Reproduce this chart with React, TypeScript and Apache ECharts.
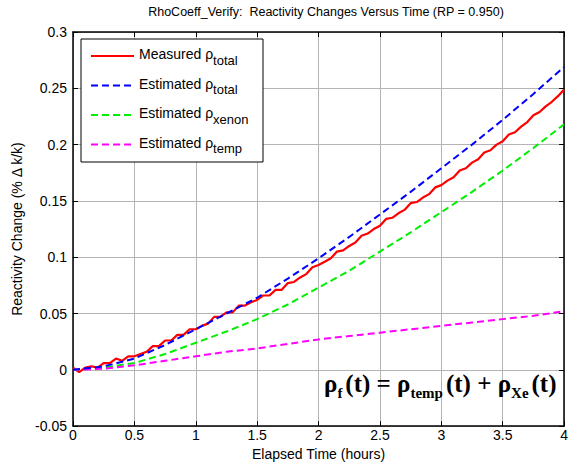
import React, { useEffect, useRef } from "react";
import * as echarts from "echarts";

const hours = [0, 0.25, 0.5, 0.75, 1, 1.25, 1.5, 1.75, 2, 2.25, 2.5, 2.75, 3, 3.25, 3.5, 3.75, 4];
const estTotal = [0, 0.003, 0.01, 0.022, 0.036, 0.05, 0.064, 0.081, 0.099, 0.118, 0.138, 0.158, 0.179, 0.2, 0.222, 0.245, 0.269];
const estXenon = [0, 0.002, 0.006, 0.014, 0.024, 0.034, 0.045, 0.058, 0.073, 0.088, 0.105, 0.122, 0.14, 0.158, 0.177, 0.197, 0.218];
const estTemp = [0, 0.001, 0.004, 0.008, 0.012, 0.016, 0.019, 0.023, 0.027, 0.03, 0.033, 0.036, 0.039, 0.042, 0.045, 0.048, 0.052];

const measTime = [
  0, 0.05, 0.1, 0.15, 0.2, 0.25, 0.3, 0.35, 0.4, 0.45, 0.5, 0.55, 0.6, 0.65, 0.7, 0.75, 0.8, 0.85, 0.9, 0.95,
  1, 1.05, 1.1, 1.15, 1.2, 1.25, 1.3, 1.35, 1.4, 1.45, 1.5, 1.55, 1.6, 1.65, 1.7, 1.75, 1.8, 1.85, 1.9, 1.95,
  2, 2.05, 2.1, 2.15, 2.2, 2.25, 2.3, 2.35, 2.4, 2.45, 2.5, 2.55, 2.6, 2.65, 2.7, 2.75, 2.8, 2.85, 2.9, 2.95,
  3, 3.05, 3.1, 3.15, 3.2, 3.25, 3.3, 3.35, 3.4, 3.45, 3.5, 3.55, 3.6, 3.65, 3.7, 3.75, 3.8, 3.85, 3.9, 3.95, 4,
];
const measTotal = [
  0.002, -0.002, 0.002, 0.003, 0.002, 0.006, 0.006, 0.01, 0.008, 0.012, 0.012, 0.014, 0.016, 0.021, 0.021, 0.026, 0.026, 0.031, 0.031, 0.036,
  0.036, 0.039, 0.041, 0.047, 0.047, 0.051, 0.051, 0.057, 0.057, 0.06, 0.062, 0.066, 0.066, 0.071, 0.071, 0.077, 0.078, 0.082, 0.085, 0.091,
  0.093, 0.096, 0.099, 0.105, 0.106, 0.11, 0.113, 0.119, 0.121, 0.125, 0.128, 0.134, 0.135, 0.139, 0.142, 0.148, 0.149, 0.153, 0.156, 0.162,
  0.164, 0.168, 0.171, 0.177, 0.179, 0.184, 0.187, 0.193, 0.195, 0.2, 0.203, 0.209, 0.211, 0.216, 0.22, 0.226, 0.229, 0.234, 0.238, 0.243, 0.249,
];

const seriesNames = ["Measured ρtotal", "Estimated ρtotal", "Estimated ρxenon", "Estimated ρtemp"];
const legendMain = ["Measured ρ", "Estimated ρ", "Estimated ρ", "Estimated ρ"];
const legendSub = ["total", "total", "xenon", "temp"];

const FONT = "Liberation Sans, Arial, sans-serif";
const SERIF = "Liberation Serif, Times New Roman, serif";

export default function App() {
  const ref = useRef<HTMLDivElement>(null);
  useEffect(() => {
    if (!ref.current) return;
    const chart = echarts.init(ref.current, null, { renderer: "svg" });
    const pair = (ys: number[]) => hours.map((h, i) => [h, ys[i]]);
    const axisLine = { show: true, onZero: false, lineStyle: { color: "#000", width: 1.5 } };
    const tick = { show: true, inside: true, length: 5, lineStyle: { color: "#000", width: 1 } };
    const fmt = (v: number) => String(+Number(v).toFixed(2));
    chart.setOption({
      animation: false,
      backgroundColor: "#fff",
      title: {
        text: "RhoCoeff_Verify:  Reactivity Changes Versus Time (RP = 0.950)",
        left: 321,
        textAlign: "center",
        top: 0,
        textStyle: { fontFamily: FONT, fontSize: 12.5, fontWeight: "normal", color: "#000" },
      },
      grid: { left: 73, right: 2, top: 32, bottom: 38, containLabel: false },
      xAxis: [
        {
          type: "value",
          min: 0,
          max: 4,
          interval: 0.5,
          position: "bottom",
          name: "Elapsed Time (hours)",
          nameLocation: "middle",
          nameGap: 18,
          nameTextStyle: { fontFamily: FONT, fontSize: 14, color: "#000" },
          axisLine,
          axisTick: tick,
          axisLabel: { fontFamily: FONT, fontSize: 14, color: "#000", margin: 2, formatter: fmt },
          splitLine: { show: true, lineStyle: { color: "#b4b4b4", width: 1 } },
        },
        {
          type: "value",
          min: 0,
          max: 4,
          interval: 0.5,
          position: "top",
          axisLine,
          axisTick: tick,
          axisLabel: { show: false },
          splitLine: { show: false },
        },
      ],
      yAxis: [
        {
          type: "value",
          min: -0.05,
          max: 0.3,
          interval: 0.05,
          position: "left",
          name: "Reactivity Change (% Δ k/k)",
          nameLocation: "middle",
          nameGap: 49,
          nameRotate: 90,
          nameTextStyle: { fontFamily: FONT, fontSize: 14, color: "#000" },
          axisLine,
          axisTick: tick,
          axisLabel: { fontFamily: FONT, fontSize: 14, color: "#000", margin: 6, formatter: fmt },
          splitLine: { show: true, lineStyle: { color: "#b4b4b4", width: 1 } },
        },
        {
          type: "value",
          min: -0.05,
          max: 0.3,
          interval: 0.05,
          position: "right",
          axisLine,
          axisTick: tick,
          axisLabel: { show: false },
          splitLine: { show: false },
        },
      ],
      legend: {
        orient: "vertical",
        left: 81,
        top: 43,
        padding: [4, 0, 0, 9],
        itemWidth: 43,
        itemHeight: 14,
        itemGap: 10,
        itemTextGap: 8,
        z: 6,
        itemStyle: { opacity: 0 },
        data: seriesNames,
        formatter: (name: string) => {
          const i = seriesNames.indexOf(name);
          return `{m|${legendMain[i]}}{s|${legendSub[i]}}`;
        },
        textStyle: {
          fontFamily: FONT,
          color: "#000",
          rich: {
            m: { fontFamily: FONT, fontSize: 14, color: "#000", padding: [0, 0, 4, 0] },
            s: { fontFamily: FONT, fontSize: 13, color: "#000", padding: [8, 0, 0, 0] },
          },
        },
      },
      graphic: [
        {
          type: "rect",
          z: 5,
          shape: { x: 81, y: 39, width: 182, height: 123 },
          style: { fill: "#fff", stroke: "#000", lineWidth: 1 },
        },
        {
          type: "text",
          z: 6,
          x: 324,
          y: 386,
          style: {
            text: "{r|ρ}{s|f}{r|(t) = ρ}{s|temp}{r|(t) + ρ}{s|Xe}{r|(t)}",
            verticalAlign: "middle",
            rich: {
              r: { fontFamily: SERIF, fontWeight: "bold", fontSize: 25, fill: "#000", padding: [0, 0, 5, 0] },
              s: { fontFamily: SERIF, fontWeight: "bold", fontSize: 15, fill: "#000", padding: [13, 3, 0, 0] },
            },
          },
        },
      ],
      series: [
        {
          name: seriesNames[0],
          type: "line",
          data: measTime.map((t, i) => [t, measTotal[i]]),
          symbol: "none",
          lineStyle: { color: "#ff0000", width: 2.2 },
          itemStyle: { color: "#ff0000" },
          z: 3,
        },
        {
          name: seriesNames[1],
          type: "line",
          data: pair(estTotal),
          symbol: "none",
          lineStyle: { color: "#0000ff", width: 2, type: [7, 4] },
          itemStyle: { color: "#0000ff" },
          z: 4,
        },
        {
          name: seriesNames[2],
          type: "line",
          data: pair(estXenon),
          symbol: "none",
          lineStyle: { color: "#00ee00", width: 2, type: [7, 4] },
          itemStyle: { color: "#00ee00" },
        },
        {
          name: seriesNames[3],
          type: "line",
          data: pair(estTemp),
          symbol: "none",
          lineStyle: { color: "#ff00ff", width: 2, type: [7, 4] },
          itemStyle: { color: "#ff00ff" },
        },
      ],
    });
    return () => chart.dispose();
  }, []);
  return (
    <div
      ref={ref}
      style={{ position: "fixed", left: 0, top: 0, width: 571, height: 466, background: "#fff" }}
    />
  );
}
